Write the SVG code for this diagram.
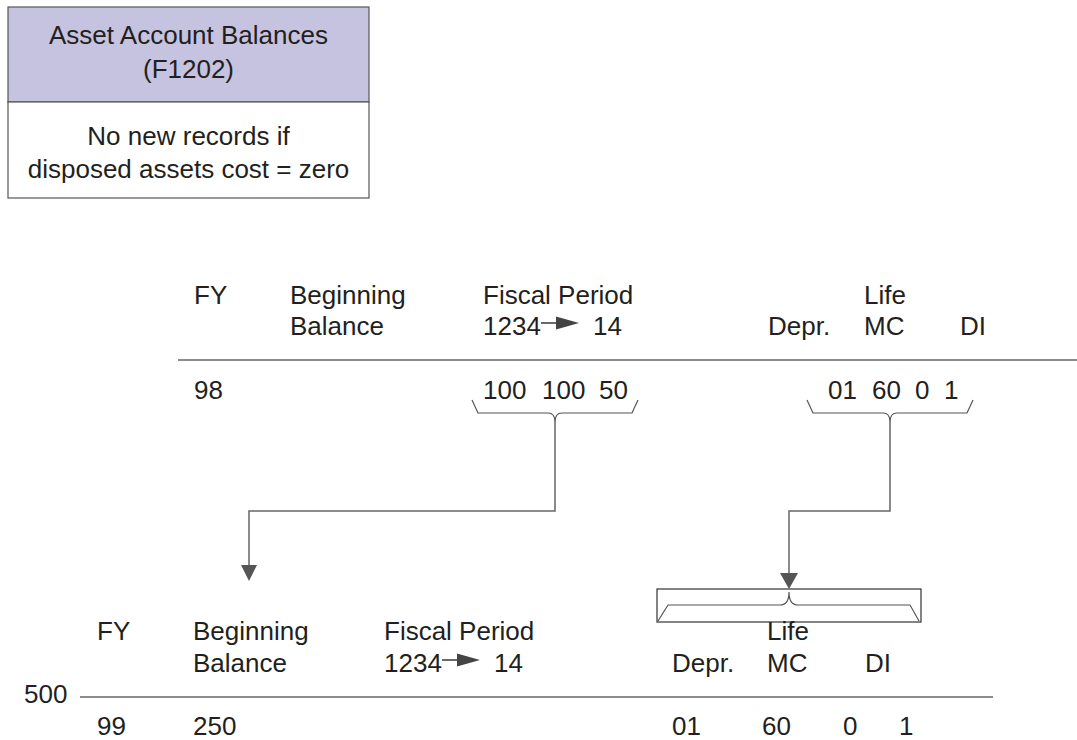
<svg xmlns="http://www.w3.org/2000/svg" width="1077" height="740" viewBox="0 0 1077 740">
<defs>
<style>
text{font-family:"Liberation Sans",Arial,sans-serif;fill:#231f20;font-size:26px}
.ln{stroke:#666;stroke-width:1.5;fill:none}
.br{stroke:#555;stroke-width:1.2;fill:none}
.ah{fill:#555}
.sa{stroke:#444;stroke-width:1.6}
.sh{fill:#444}
</style>
</defs>
<rect width="1077" height="740" fill="#fff"/>
<g id="node-f1202">
<rect x="8" y="7" width="361" height="95" fill="#c6c3e0" stroke="#555" stroke-width="1.2"/>
<rect x="8" y="102" width="361" height="96" fill="#fff" stroke="#555" stroke-width="1.2"/>
<text x="188.5" y="44" text-anchor="middle">Asset Account Balances</text>
<text x="188.5" y="78" text-anchor="middle">(F1202)</text>
<text x="188.5" y="145" text-anchor="middle">No new records if</text>
<text x="188.5" y="178" text-anchor="middle">disposed assets cost = zero</text>
</g>
<g id="node-fy98">
<text x="194" y="304">FY</text>
<text x="290" y="304">Beginning</text>
<text x="290" y="335">Balance</text>
<text x="483" y="304">Fiscal Period</text>
<text x="483" y="335">1234</text>
<line x1="541" y1="323" x2="560" y2="323" class="sa"/>
<polygon points="556,316.5 579,323 556,329.5" class="sh"/>
<text x="593" y="335">14</text>
<text x="864" y="304">Life</text>
<text x="768" y="335">Depr.</text>
<text x="864" y="335">MC</text>
<text x="960" y="335">DI</text>
<line x1="178" y1="360" x2="1077" y2="360" class="ln"/>
<text x="194" y="399">98</text>
<text x="483" y="399">100</text>
<text x="542" y="399">100</text>
<text x="599" y="399">50</text>
<path class="br" d="M472,400 L478,413 H548 Q555,413 555,422 Q555,413 562,413 H632 L638,400"/>
<text x="828" y="399">01</text>
<text x="872" y="399">60</text>
<text x="915" y="399">0</text>
<text x="944" y="399">1</text>
<path class="br" d="M807,400 L813,413 H883 Q890,413 890,422 Q890,413 897,413 H967 L973,400"/>
</g>
<g id="node-fy99">
<rect x="657" y="589" width="264" height="33" fill="none" stroke="#333" stroke-width="1.2"/>
<path class="br" d="M658,621 L668,605 H780 Q789,605 789,592 Q789,605 798,605 H910 L919,621"/>
<text x="97" y="640">FY</text>
<text x="193" y="640">Beginning</text>
<text x="193" y="672">Balance</text>
<text x="384" y="640">Fiscal Period</text>
<text x="384" y="672">1234</text>
<line x1="442" y1="660" x2="461" y2="660" class="sa"/>
<polygon points="457,653.5 480,660 457,666.5" class="sh"/>
<text x="494" y="672">14</text>
<text x="767" y="640">Life</text>
<text x="672" y="672">Depr.</text>
<text x="767" y="672">MC</text>
<text x="865" y="672">DI</text>
<text x="24" y="703">500</text>
<line x1="80" y1="697" x2="993" y2="697" class="ln"/>
<text x="97" y="735">99</text>
<text x="193" y="735">250</text>
<text x="672" y="735">01</text>
<text x="762" y="735">60</text>
<text x="843" y="735">0</text>
<text x="899" y="735">1</text>
</g>
<g id="connectors">
<path class="ln" d="M555,422 V511 H249 V566"/>
<polygon class="ah" points="241,565 257,565 249,581"/>
<path class="ln" d="M890,422 V511 H789 V574"/>
<polygon class="ah" points="780,573 798,573 789,589"/>
</g>
</svg>
